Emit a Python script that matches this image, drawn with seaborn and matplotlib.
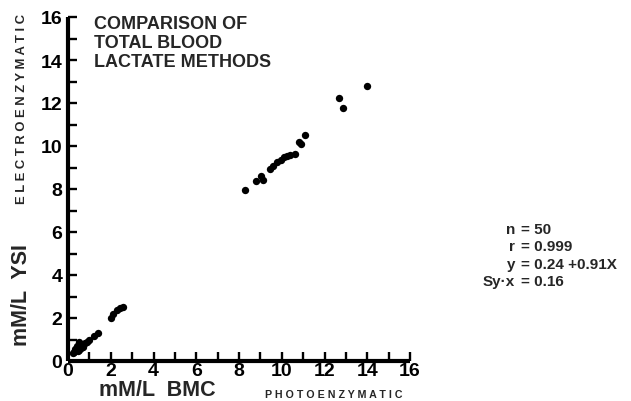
import pandas as pd
import seaborn as sns
import matplotlib.pyplot as plt

# BMC photoenzymatic (x) vs YSI electroenzymatic (y), mM/L
bmc = [0.25, 0.3, 0.35, 0.45, 0.5, 0.4, 0.6, 0.5, 0.7, 0.6, 0.8, 0.9, 1.0, 0.7, 1.2, 1.4,
       2.0, 2.1, 2.3, 2.45, 2.55,
       8.3, 8.8, 9.05, 9.1, 9.45, 9.6, 9.8, 9.95, 10.1, 10.25, 10.4, 10.6, 10.8, 10.9, 11.1,
       12.7, 12.85, 14.0]
ysi = [0.35, 0.4, 0.55, 0.45, 0.5, 0.7, 0.75, 0.9, 0.8, 0.6, 0.85, 0.9, 1.0, 0.65, 1.15, 1.3,
       2.0, 2.2, 2.35, 2.45, 2.5,
       7.95, 8.35, 8.6, 8.4, 8.95, 9.05, 9.25, 9.35, 9.5, 9.55, 9.6, 9.65, 10.2, 10.1, 10.5,
       12.25, 11.75, 12.8]

stat_keys = ["n", "r", "y", "Sy\u00b7x"]
stat_vals = ["= 50", "= 0.999", "= 0.24 +0.91X", "= 0.16"]
ticks = list(range(0, 17, 2))

df = pd.DataFrame({"bmc": bmc, "ysi": ysi})

sns.set_theme(style="white")
plt.rcParams["font.family"] = ["Liberation Sans", "DejaVu Sans"]
plt.rcParams["font.weight"] = "bold"

fig = plt.figure(figsize=(6.31, 4.02), dpi=100)
ax = fig.add_axes([68 / 631, 40 / 402, 342 / 631, 344 / 402])
sns.scatterplot(data=df, x="bmc", y="ysi", color="black", s=28, edgecolor="black",
                linewidth=0, ax=ax, clip_on=False)
ax.set_xlim(0, 16)
ax.set_ylim(0, 16)
ax.set_xticks(ticks)
ax.set_yticks(ticks)
ax.set_xticklabels([str(t) for t in ticks], fontsize=14, fontweight="bold")
ax.set_yticklabels([str(t) for t in ticks], fontsize=14, fontweight="bold")
ax.set_xticks(range(1, 16, 2), minor=True)
ax.set_yticks(range(1, 16, 2), minor=True)
ax.set_xlabel("")
ax.set_ylabel("")
for s in ["top", "right"]:
    ax.spines[s].set_visible(False)
for s in ["left", "bottom"]:
    ax.spines[s].set_linewidth(3)
    ax.spines[s].set_color("black")
    ax.spines[s].set_capstyle("butt")
ax.tick_params(which="both", direction="in", length=6.5, width=1.7, color="black",
               left=True, bottom=True)
ax.tick_params(axis="x", pad=1, labelcolor="black")
ax.tick_params(axis="y", pad=4, labelcolor="black")

ax.text(0.075, 1.005, "COMPARISON OF\nTOTAL BLOOD\nLACTATE METHODS", transform=ax.transAxes,
        ha="left", va="top", fontsize=13, fontweight="bold", linespacing=1.15)

fig.text(22 / 631, (402 - 295) / 402, "mM/L  YSI", rotation=90, ha="center", va="center",
         fontsize=15.5, fontweight="bold")
fig.text(22 / 631, (402 - 109) / 402, " ".join("ELECTROENZYMATIC"), rotation=90, ha="center",
         va="center", fontsize=9.4, fontweight="bold")
fig.text(99 / 631, (402 - 391) / 402, "mM/L  BMC", ha="left", va="center",
         fontsize=15.5, fontweight="bold")
fig.text(265 / 631, (402 - 395) / 402, " ".join("PHOTOENZYMATIC"), ha="left", va="center",
         fontsize=7.7, fontweight="bold")

for i, (k, v) in enumerate(zip(stat_keys, stat_vals)):
    yy = (402 - (230 + 17.3 * i)) / 402
    fig.text(515 / 631, yy, k, ha="right", va="center", fontsize=11, fontweight="bold")
    fig.text(521 / 631, yy, v, ha="left", va="center", fontsize=11, fontweight="bold")

fig.savefig("out.png", dpi=100)
